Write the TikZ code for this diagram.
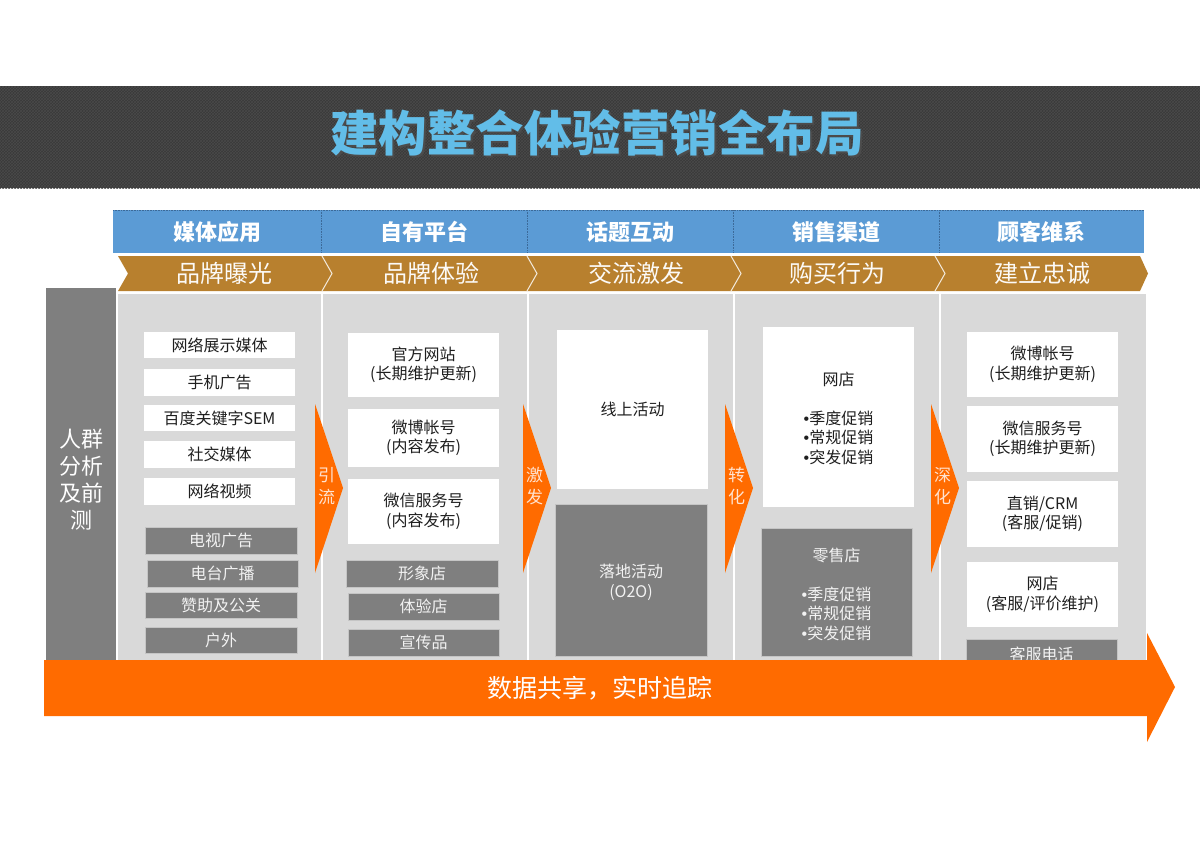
\documentclass[tikz,border=0pt]{standalone}
\usepackage{fontspec}
\setmainfont{Noto Sans CJK SC}
\newfontfamily\latinf{Liberation Sans}
\newcommand\bul{{\latinf •}}
\usetikzlibrary{patterns}
\definecolor{hblue}{HTML}{5B9BD5}
\definecolor{hbluedark}{HTML}{3C6A99}
\definecolor{hbrown}{HTML}{B8802E}
\definecolor{barbg}{HTML}{393939}
\definecolor{barpat}{HTML}{4A4A4A}
\definecolor{ttlblue}{HTML}{62BDE8}
\definecolor{pgrey}{HTML}{D9D9D9}
\definecolor{dgrey}{HTML}{7F7F7F}
\definecolor{orng}{HTML}{FF6B00}
\definecolor{peach}{HTML}{FFE2CF}
\begin{document}
\begin{tikzpicture}[x=1pt,y=-1pt,
  wbox/.style={fill=white, draw=none, inner sep=0pt, align=center,
    font=\fontsize{16}{19.5}\selectfont, text=black!88},
  gbox/.style={fill=dgrey, draw=white!55!dgrey, line width=0.6pt, inner sep=0pt, align=center,
    font=\fontsize{16}{19.5}\selectfont, text=white!95!black},
  hdtext/.style={font=\fontsize{22}{24}\selectfont\bfseries, text=white},
  brtext/.style={font=\fontsize{24}{26}\selectfont, text=white!96!hbrown},
  arlabel/.style={font=\fontsize{17}{22}\selectfont, text=peach, align=center, inner sep=0pt},
  oarrow/.style={fill=orng, draw=none}
]
\useasboundingbox (0,0) rectangle (1200,849);
\fill[white] (0,0) rectangle (1200,849);

% title bar
\fill[barbg] (0,86) rectangle (1200,188);
\fill[pattern=crosshatch, pattern color=barpat] (0,86) rectangle (1200,188);
\node[font=\fontsize{48.5}{50}\selectfont\bfseries, text=black!70] at (599,135) {建构整合体验营销全布局};
\node[font=\fontsize{48.5}{50}\selectfont\bfseries, text=ttlblue] (title) at (597,133) {建构整合体验营销全布局};

% blue header row
\fill[hblue] (113,210) rectangle (1144,253);
\draw[hbluedark, densely dotted, line width=0.6pt] (113,210.5) -- (1144,210.5);
\foreach \xx in {321,527,733,939} \draw[hbluedark, densely dotted, line width=0.6pt] (\xx,210) -- (\xx,253);
\node[hdtext] (h1) at (217,232) {媒体应用};
\node[hdtext] (h2) at (424,232) {自有平台};
\node[hdtext] (h3) at (630,232) {话题互动};
\node[hdtext] (h4) at (836,232) {销售渠道};
\node[hdtext] (h5) at (1041.5,232) {顾客维系};

% brown chevron row
\fill[hbrown] (118,256) -- (1140,256) -- (1148,273.5) -- (1140,291) -- (118,291) -- (128,273.5) -- cycle;
\foreach \xx in {322,527,731,935} \draw[white!85!hbrown, line width=1pt] (\xx,256) -- (\xx+10,273.5) -- (\xx,291);
\node[brtext] (b1) at (224,273) {品牌曝光};
\node[brtext] (b2) at (431,273) {品牌体验};
\node[brtext] (b3) at (636,273) {交流激发};
\node[brtext] (b4) at (837,273) {购买行为};
\node[brtext] (b5) at (1042,273) {建立忠诚};

% left grey bar
\fill[dgrey] (46,288) rectangle (116,705);
\node[font=\fontsize{22}{27}\selectfont, text=white, align=center, inner sep=0pt] (crowd) at (81,480) {人群\\分析\\及前\\测};

% light grey panel
\fill[pgrey] (118,294) rectangle (1146,700);
\foreach \xx in {322,528,734,940} \draw[white, line width=1.5pt] (\xx,294) -- (\xx,700);

% column 1
\node[wbox, minimum width=151pt, minimum height=26pt] (c1a) at (219.5,345) {网络展示媒体};
\node[wbox, minimum width=151pt, minimum height=27pt] (c1b) at (219.5,382.5) {手机广告};
\node[wbox, minimum width=151pt, minimum height=26pt] (c1c) at (219.5,418) {百度关键字SEM};
\node[wbox, minimum width=151pt, minimum height=27pt] (c1d) at (219.5,454.5) {社交媒体};
\node[wbox, minimum width=151pt, minimum height=27pt] (c1e) at (219.5,491.5) {网络视频};
\node[gbox, minimum width=152pt, minimum height=27pt] (c1f) at (221,540.5) {电视广告};
\node[gbox, minimum width=151pt, minimum height=27pt] (c1g) at (222.5,573.5) {电台广播};
\node[gbox, minimum width=152pt, minimum height=26pt] (c1h) at (221,605) {赞助及公关};
\node[gbox, minimum width=152pt, minimum height=26pt] (c1i) at (221,640) {户外};

% column 2
\node[wbox, minimum width=151pt, minimum height=64pt] (c2a) at (423.5,365) {官方网站\\(长期维护更新)};
\node[wbox, minimum width=151pt, minimum height=58pt] (c2b) at (423.5,438) {微博帐号\\(内容发布)};
\node[wbox, minimum width=151pt, minimum height=65pt] (c2c) at (423.5,511.5) {微信服务号\\(内容发布)};
\node[gbox, minimum width=152pt, minimum height=27pt] (c2d) at (422,573.5) {形象店};
\node[gbox, minimum width=151pt, minimum height=27pt] (c2e) at (423.5,606.5) {体验店};
\node[gbox, minimum width=151pt, minimum height=27pt] (c2f) at (423.5,642.5) {宣传品};

% column 3
\node[wbox, minimum width=151pt, minimum height=159pt] (c3a) at (632.5,409.5) {线上活动};
\node[gbox, minimum width=152pt, minimum height=152pt] (c3b) at (631,580) {};
\node[font=\fontsize{16}{20}\selectfont, text=white!95!black, align=center, inner sep=0pt] (c3bt) at (631,582) {落地活动\\(O2O)};

% column 4
\node[wbox, minimum width=151pt, minimum height=180pt] (c4a) at (838.5,417) {};
\node[font=\fontsize{16}{19.5}\selectfont, text=black!88, align=center, inner sep=0pt] (c4at) at (838.5,418) {网店\\[19.5pt]\bul 季度促销\\\bul 常规促销\\\bul 突发促销};
\node[gbox, minimum width=151pt, minimum height=128pt] (c4b) at (836.5,592) {};
\node[font=\fontsize{16}{19.5}\selectfont, text=white!95!black, align=center, inner sep=0pt] (c4bt) at (836.5,594) {零售店\\[19.5pt]\bul 季度促销\\\bul 常规促销\\\bul 突发促销};

% column 5
\node[wbox, minimum width=151pt, minimum height=65pt] (c5a) at (1042.5,364.5) {微博帐号\\(长期维护更新)};
\node[wbox, minimum width=151pt, minimum height=66pt] (c5b) at (1042.5,439) {微信服务号\\(长期维护更新)};
\node[wbox, minimum width=151pt, minimum height=66pt] (c5c) at (1042.5,514) {直销/CRM\\(客服/促销)};
\node[wbox, minimum width=151pt, minimum height=65pt] (c5d) at (1042.5,594.5) {网店\\(客服/评价维护)};
\node[gbox, minimum width=151pt, minimum height=30pt] (c5e) at (1041.5,654) {客服电话};

% orange step arrows
\foreach \xx/\lab/\nm in {315/{引\\流}/a1, 523/{激\\发}/a2, 725/{转\\化}/a3, 931/{深\\化}/a4} {
  \fill[oarrow] (\xx,404) -- (\xx+28,488) -- (\xx,573) -- cycle;
  \node[arlabel] (\nm) at (\xx+11.5,486) {\lab};
}

% bottom big arrow
\fill[oarrow] (44,660) -- (1147,660) -- (1147,633) -- (1175,687) -- (1147,742) -- (1147,716) -- (44,716) -- cycle;
\node[font=\fontsize{25}{28}\selectfont, text=white] (data) at (600,688) {数据共享，实时追踪};
\end{tikzpicture}
\end{document}
